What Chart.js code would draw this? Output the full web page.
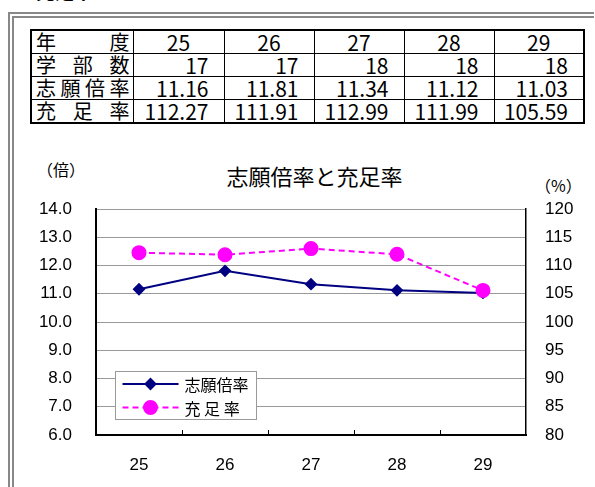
<!DOCTYPE html>
<html lang="ja">
<head>
<meta charset="utf-8">
<script src="https://cdn.jsdelivr.net/npm/chart.js@4.4.1/dist/chart.umd.min.js"></script>
<style>
  html, body { margin: 0; padding: 0; background: #fff; }
  body { width: 595px; height: 487px; position: relative; overflow: hidden; font-family: "Noto Sans CJK JP", sans-serif; }
  .cut { position: absolute; left: 36px; top: -23px; font-size: 19px; font-weight: bold; }
  .frame { position: absolute; left: 8px; top: 12px; width: 586px; height: 520px; border: 6px double #888; border-right: none; box-sizing: border-box; }
  #tbl { position: absolute; left: 30px; top: 29px; border-collapse: collapse; table-layout: fixed; border: 2px solid #000; }
  #tbl td { border: 1px solid #000; height: 22px; padding: 0; font-size: 21px; line-height: 22px; color: #000; white-space: nowrap; overflow: hidden; }
  #tbl td.head { padding: 0 3px 0 4px; font-size: 20px; }
  #tbl td.head div { display: flex; justify-content: space-between; }
  #tbl td.c { text-align: center; }
  #tbl td.r { text-align: right; padding-right: 15px; }
  .note { position: absolute; color: #000; white-space: nowrap; line-height: 1; }
  #chartTitle { left: 0; width: 629px; top: 164px; text-align: center; font-size: 22px; }
  #unitL { left: 37px; top: 161px; font-size: 16px; }
  #unitR { left: 535px; top: 177px; font-size: 16px; }
  #wrap { position: absolute; left: 0; top: 140px; width: 595px; height: 347px; }
</style>
</head>
<body>
<div class="cut">充足率</div>
<div class="frame"></div>
<table id="tbl">
  <colgroup>
    <col style="width:102px"><col style="width:91px"><col style="width:90px"><col style="width:90px"><col style="width:90px"><col style="width:90px">
  </colgroup>
  <tbody id="tbody"></tbody>
</table>
<div class="note" id="unitL">（倍）</div>
<div class="note" id="chartTitle">志願倍率と充足率</div>
<div class="note" id="unitR">（%）</div>
<div id="wrap"><canvas id="chart" width="595" height="347"></canvas></div>
<script>
const years = ['25', '26', '27', '28', '29'];
const facultyCount = [17, 17, 18, 18, 18];
const applicantRatio = [11.16, 11.81, 11.34, 11.12, 11.03];
const fillRate = [112.27, 111.91, 112.99, 111.99, 105.59];
const rowLabels = ['年度', '学部数', '志願倍率', '充足率'];
const seriesNames = ['志願倍率', '充 足 率'];
const ratioAxis = { min: 6, max: 14, step: 1 };
const rateAxis = { min: 80, max: 120, step: 5 };

// table
const tbody = document.getElementById('tbody');
const rows = [
  { vals: years, cls: 'c' },
  { vals: facultyCount.map(String), cls: 'r' },
  { vals: applicantRatio.map(v => v.toFixed(2)), cls: 'r' },
  { vals: fillRate.map(v => v.toFixed(2)), cls: 'r' },
];
rows.forEach((row, i) => {
  const tr = document.createElement('tr');
  const th = document.createElement('td');
  th.className = 'head';
  const d = document.createElement('div');
  for (const ch of rowLabels[i]) {
    const s = document.createElement('span');
    s.textContent = ch;
    d.appendChild(s);
  }
  th.appendChild(d);
  tr.appendChild(th);
  row.vals.forEach(v => {
    const td = document.createElement('td');
    td.className = row.cls;
    td.textContent = v;
    tr.appendChild(td);
  });
  tbody.appendChild(tr);
});

const tickFont = { family: 'Liberation Sans, Arial, sans-serif', size: 17 };

// legend box inside the plot + small inward tick marks
const overlay = {
  id: 'overlay',
  afterDatasetsDraw(chart) {
    const { ctx, chartArea, scales } = chart;
    ctx.save();
    // x tick marks between categories
    const n = years.length;
    const xs = scales.x;
    ctx.strokeStyle = '#000';
    ctx.lineWidth = 1;
    for (let i = 1; i < n; i++) {
      const x = Math.round((xs.getPixelForValue(i - 1) + xs.getPixelForValue(i)) / 2) + 0.5;
      ctx.beginPath();
      ctx.moveTo(x, chartArea.bottom);
      ctx.lineTo(x, chartArea.bottom - 5);
      ctx.stroke();
    }
    // legend
    const lx = chartArea.left + 19.5, ly = chartArea.top + 162.5, lw = 141, lh = 48;
    ctx.fillStyle = '#fff';
    ctx.fillRect(lx, ly, lw, lh);
    ctx.strokeStyle = '#999';
    ctx.strokeRect(lx, ly, lw, lh);
    [0, 1].forEach((di, row) => {
      const ds = chart.data.datasets[di];
      const y = ly + 12.5 + row * 23.5;
      ctx.strokeStyle = ds.borderColor;
      ctx.lineWidth = ds.borderWidth;
      ctx.setLineDash(ds.borderDash || []);
      ctx.beginPath();
      ctx.moveTo(lx + 7, y);
      ctx.lineTo(lx + 63, y);
      ctx.stroke();
      ctx.setLineDash([]);
      ctx.fillStyle = ds.pointBackgroundColor;
      ctx.strokeStyle = ds.pointBorderColor;
      Chart.helpers.drawPoint(ctx, { pointStyle: ds.pointStyle, radius: ds.pointRadius, rotation: 0, borderWidth: 1 }, lx + 35, y);
      ctx.fillStyle = '#000';
      ctx.font = '16px "Noto Sans CJK JP", sans-serif';
      ctx.textBaseline = 'middle';
      ctx.fillText(ds.label, lx + 69, y + 1);
    });
    ctx.restore();
  }
};

new Chart(document.getElementById('chart'), {
  type: 'line',
  data: {
    labels: years,
    datasets: [
      {
        label: seriesNames[0],
        data: applicantRatio,
        yAxisID: 'y',
        borderColor: '#000080',
        backgroundColor: '#000080',
        borderWidth: 2,
        pointStyle: 'rectRot',
        pointRadius: 5,
        pointBackgroundColor: '#000080',
        pointBorderColor: '#000080',
        tension: 0,
        order: 1,
      },
      {
        label: seriesNames[1],
        data: fillRate,
        yAxisID: 'y1',
        borderColor: '#ff00ff',
        backgroundColor: '#ff00ff',
        borderWidth: 2,
        borderDash: [6, 4],
        pointStyle: 'circle',
        pointRadius: 6.5,
        pointBackgroundColor: '#ff00ff',
        pointBorderColor: '#ff00ff',
        tension: 0,
        order: 0,
      },
    ],
  },
  options: {
    responsive: false,
    animation: false,
    devicePixelRatio: 1,
    layout: { padding: { top: 69, left: 0, right: 0, bottom: 0 } },
    plugins: { legend: { display: false }, tooltip: { enabled: false }, title: { display: false } },
    scales: {
      x: {
        offset: true,
        grid: { display: false, drawTicks: false },
        border: { display: true, color: '#000', width: 2 },
        ticks: { font: tickFont, color: '#000', padding: 20 },
        afterFit(s) { s.height = 52; },
      },
      y: {
        position: 'left',
        min: ratioAxis.min,
        max: ratioAxis.max,
        ticks: { stepSize: ratioAxis.step, font: tickFont, color: '#000', padding: 24, callback: v => v.toFixed(1) },
        grid: { color: '#999', drawTicks: false },
        border: { color: '#000', width: 2 },
        afterFit(s) { s.width = 96; },
      },
      y1: {
        position: 'right',
        min: rateAxis.min,
        max: rateAxis.max,
        ticks: { stepSize: rateAxis.step, font: tickFont, color: '#000', padding: 19 },
        grid: { display: false, drawTicks: false },
        border: { display: true, color: '#000', width: 1.5 },
        afterFit(s) { s.width = 69; },
      },
    },
  },
  plugins: [overlay],
});
</script>
</body>
</html>
